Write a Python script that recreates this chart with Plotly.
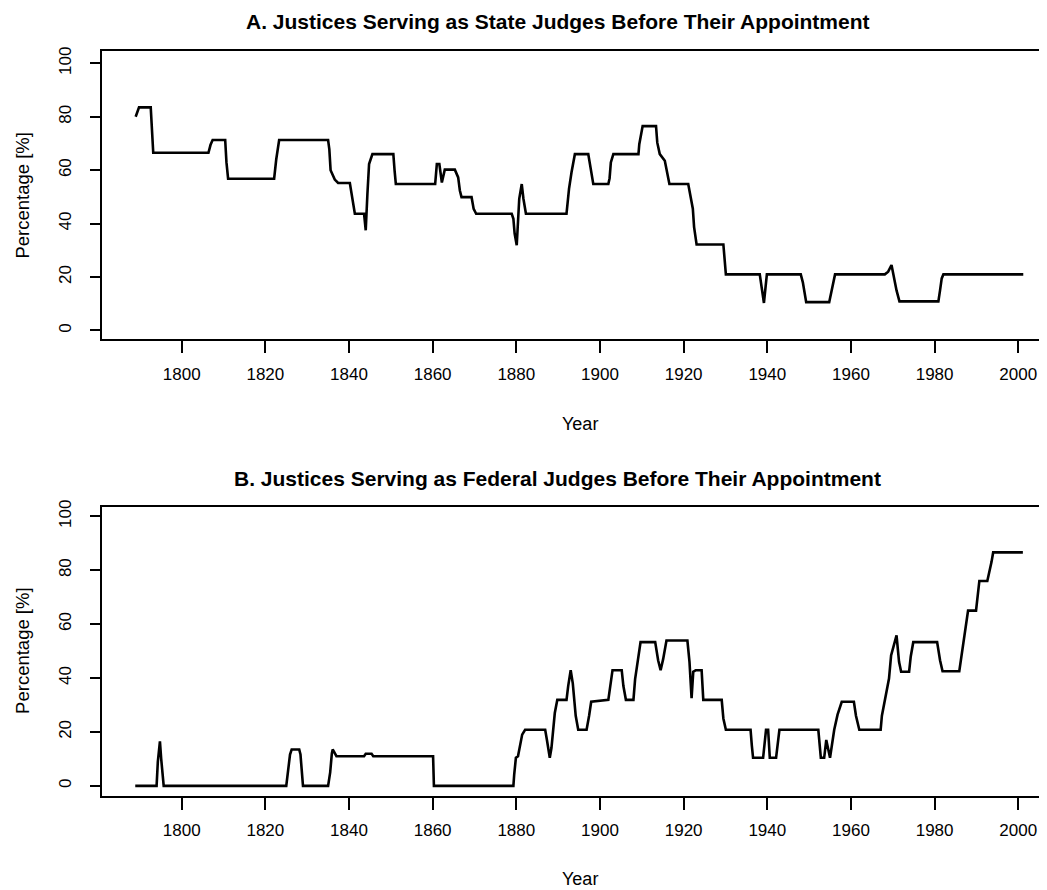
import plotly.graph_objects as go

# Panel A: share of justices who had served as state judges
state_years = [1789.0, 1789.8, 1792.6, 1792.9, 1793.2, 1806.4, 1806.9, 1807.4, 1810.4, 1810.7,
               1811.1, 1822.1, 1822.6, 1823.3, 1835.0, 1835.3, 1835.6, 1836.6, 1837.4, 1840.2,
               1841.0, 1841.4, 1843.6, 1844.0, 1844.4, 1844.8, 1845.6, 1850.6, 1850.9, 1851.2,
               1860.6, 1861.0, 1861.6, 1862.2, 1862.9, 1865.3, 1866.1, 1866.5, 1866.9, 1869.3,
               1869.8, 1870.4, 1878.9, 1879.3, 1879.6, 1880.1, 1880.7, 1881.3, 1881.7, 1882.3,
               1892.0, 1892.2, 1892.6, 1893.2, 1894.0, 1897.2, 1898.0, 1898.4, 1902.0, 1902.3,
               1902.6, 1903.2, 1909.2, 1909.4, 1910.2, 1913.4, 1913.7, 1914.3, 1915.5, 1916.6,
               1921.1, 1921.5, 1922.2, 1922.5, 1923.1, 1929.5, 1929.8, 1930.1, 1938.2, 1938.6,
               1939.2, 1939.9, 1948.0, 1948.5, 1949.3, 1954.8, 1955.4, 1955.9, 1956.2, 1968.1,
               1968.9, 1969.7, 1970.2, 1970.9, 1971.6, 1980.9, 1981.3, 1981.7, 1982.1, 2001.2]
state_pct = [80.0, 83.5, 83.5, 75.0, 66.5, 66.5, 69.5, 71.3, 71.3, 63.0,
             56.8, 56.8, 64.0, 71.3, 71.3, 67.8, 60.0, 56.5, 55.2, 55.2,
             46.8, 43.7, 43.7, 37.5, 51.0, 62.3, 66.0, 66.0, 59.8, 54.8,
             54.8, 62.3, 62.3, 55.4, 60.2, 60.2, 57.3, 52.4, 49.9, 49.9,
             45.5, 43.7, 43.7, 41.8, 36.3, 31.9, 49.3, 54.8, 49.3, 43.7,
             43.7, 46.8, 53.0, 59.2, 66.0, 66.0, 59.2, 54.8, 54.8, 57.0,
             62.9, 66.0, 66.0, 69.7, 76.5, 76.5, 70.3, 66.0, 63.5, 54.8,
             54.8, 51.7, 45.6, 38.7, 32.2, 32.2, 25.7, 21.0, 21.0, 17.1,
             10.3, 21.0, 21.0, 18.0, 10.6, 10.6, 15.0, 19.5, 21.0, 21.0,
             22.0, 24.5, 20.5, 15.0, 10.9, 10.9, 15.0, 19.5, 21.0, 21.0]

# Panel B: share of justices who had served as federal judges
fed_years = [1788.9, 1794.0, 1794.3, 1794.8, 1795.1, 1795.4, 1795.7, 1825.0, 1825.4, 1825.9,
             1826.3, 1828.1, 1828.4, 1828.8, 1829.0, 1835.0, 1835.5, 1835.9, 1836.1, 1837.0,
             1843.6, 1844.0, 1845.4, 1845.8, 1860.1, 1860.3, 1879.3, 1879.5, 1879.9, 1880.4,
             1880.8, 1881.4, 1882.1, 1886.9, 1887.3, 1888.0, 1888.4, 1888.8, 1889.2, 1889.8,
             1892.0, 1892.4, 1893.0, 1893.5, 1893.8, 1894.2, 1894.8, 1896.8, 1897.4, 1897.9,
             1902.0, 1902.4, 1903.0, 1905.2, 1905.6, 1906.2, 1908.0, 1908.4, 1909.0, 1909.7,
             1913.2, 1913.9, 1914.5, 1915.1, 1915.9, 1920.9, 1921.4, 1921.9, 1922.3, 1922.9,
             1924.3, 1924.7, 1929.1, 1929.5, 1930.1, 1936.0, 1936.3, 1936.6, 1939.0, 1939.7,
             1940.2, 1940.6, 1942.1, 1942.5, 1942.9, 1952.2, 1952.5, 1952.8, 1953.6, 1954.1,
             1955.0, 1955.5, 1956.0, 1956.8, 1957.8, 1960.7, 1961.2, 1962.0, 1967.1, 1967.4,
             1968.1, 1969.1, 1969.6, 1970.2, 1970.9, 1971.5, 1972.0, 1973.9, 1974.3, 1974.9,
             1980.6, 1981.3, 1981.9, 1985.9, 1986.4, 1987.0, 1987.7, 1988.0, 1989.9, 1990.2,
             1990.7, 1992.6, 1993.1, 1993.6, 1994.0, 2001.1]
fed_pct = [0.0, 0.0, 9.0, 16.5, 10.0, 4.0, 0.0, 0.0, 4.3, 11.6,
           13.5, 13.5, 11.6, 4.0, 0.0, 0.0, 5.0, 12.0, 13.5, 11.0,
           11.0, 11.9, 11.9, 11.0, 11.0, 0.0, 0.0, 4.3, 10.4, 11.0,
           14.1, 19.0, 20.8, 20.8, 17.2, 10.4, 14.0, 20.8, 27.0, 31.9,
           31.9, 37.0, 42.9, 38.0, 31.9, 26.0, 20.8, 20.8, 26.0, 31.2,
           31.9, 37.0, 42.9, 42.9, 37.0, 31.9, 31.9, 39.6, 46.0, 53.3,
           53.3, 46.6, 42.9, 47.0, 53.9, 53.9, 46.0, 32.5, 42.3, 42.9,
           42.9, 31.9, 31.9, 25.0, 20.8, 20.8, 15.0, 10.4, 10.4, 20.8,
           20.8, 10.4, 10.4, 17.0, 20.8, 20.8, 15.0, 10.4, 10.4, 17.0,
           10.4, 15.0, 20.8, 26.4, 31.2, 31.2, 26.0, 20.8, 20.8, 26.0,
           31.2, 39.8, 48.4, 52.1, 55.8, 46.0, 42.3, 42.3, 48.0, 53.3,
           53.3, 46.6, 42.5, 42.5, 48.0, 54.0, 61.0, 65.0, 65.0, 70.0,
           76.0, 76.0, 79.0, 83.0, 86.6, 86.6]

year_ticks = list(range(1800, 2001, 20))
pct_ticks = [0, 20, 40, 60, 80, 100]

titles = ["A. Justices Serving as State Judges Before Their Appointment",
          "B. Justices Serving as Federal Judges Before Their Appointment"]

# the page body has an 8px margin, so the figure is a bit smaller than the window
OFF = 8
W, H = 1047 - OFF, 890 - OFF
FONT = "Liberation Sans, Arial, sans-serif"


def px_x(p):
    # p is a position in window pixels
    return (p - OFF) / W


def px_y(p):
    return 1 - (p - OFF) / H


fig = go.Figure()
fig.add_trace(go.Scatter(x=state_years, y=state_pct, mode="lines",
                         line=dict(color="black", width=2.6), xaxis="x", yaxis="y",
                         showlegend=False))
fig.add_trace(go.Scatter(x=fed_years, y=fed_pct, mode="lines",
                         line=dict(color="black", width=2.6), xaxis="x2", yaxis="y2",
                         showlegend=False))

xcommon = dict(range=[1780.95, 2006.87], tickvals=year_ticks, ticks="outside",
               ticklen=12, tickwidth=2, tickcolor="black", showline=True,
               linewidth=2, linecolor="black", mirror=True, showgrid=False,
               zeroline=False, ticklabelstandoff=6,
               tickfont=dict(family=FONT, size=17, color="black"),
               domain=[px_x(102), 1.0])
ycommon = dict(tickvals=pct_ticks, ticks="outside", ticklen=10, tickwidth=2,
               tickcolor="black", showline=True, linewidth=2, linecolor="black",
               mirror=False, showgrid=False, zeroline=False, tickangle=-90,
               ticklabelstandoff=12,
               tickfont=dict(family=FONT, size=17, color="black"))

fig.update_layout(
    width=W, height=H,
    margin=dict(l=0, r=0, t=0, b=0),
    paper_bgcolor="white", plot_bgcolor="white",
    xaxis=dict(xcommon, anchor="y"),
    yaxis=dict(ycommon, anchor="x", range=[-3.34, 104.53],
               domain=[px_y(335), px_y(44.5)]),
    xaxis2=dict(xcommon, anchor="y2"),
    yaxis2=dict(ycommon, anchor="x2", range=[-3.68, 103.42],
                domain=[px_y(795), px_y(504)]),
)

notes = [
    (558, 15, titles[0], 21, True, 0),
    (557, 475, titles[1], 21, True, 0),
    (580, 420, "Year", 18, False, 0),
    (580, 879, "Year", 18, False, 0),
    (23, 190, "Percentage [%]", 18.5, False, -90),
    (23, 649, "Percentage [%]", 18.5, False, -90),
]
for x, y, txt, size, bold, angle in notes:
    fig.add_annotation(x=px_x(x), y=px_y(y), xref="paper", yref="paper",
                       text=f"<b>{txt}</b>" if bold else txt, showarrow=False,
                       textangle=angle, xanchor="center", yanchor="middle",
                       font=dict(family=FONT, size=size, color="black"))

fig.write_html("out.html")
